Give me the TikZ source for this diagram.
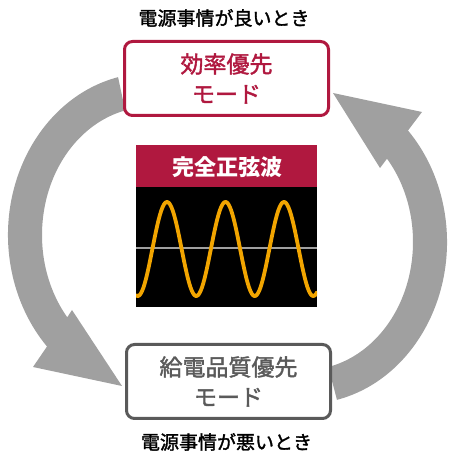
\documentclass[tikz,border=0pt]{standalone}
\usepackage{fontspec}
\newfontfamily\jp[FakeBold=1.6]{Noto Sans CJK JP}
\newfontfamily\jpb{Noto Sans CJK JP}
\definecolor{crim}{HTML}{B0183F}
\definecolor{arrowgray}{HTML}{A0A0A0}
\definecolor{boxgray}{HTML}{5A5A5A}
\definecolor{wave}{HTML}{F2A500}
\begin{document}
\begin{tikzpicture}[x=1pt,y=1pt,
  modebox/.style={draw, line width=3pt, rounded corners=8pt, fill=white,
    minimum width=204pt, minimum height=74pt, align=center,
    font=\jp\fontsize{23}{30}\selectfont, inner sep=0pt},
  caption/.style={font=\jp\fontsize{19}{22}\selectfont, text=black, inner sep=0pt},
  head/.style={fill=arrowgray, draw=none}]
\useasboundingbox (0,0) rectangle (455,457);

% centres of the two circular arrows
\coordinate (lc) at (150,222);
\coordinate (rc) at (305,215);
% arrow heads
\coordinate (ltip) at (122,71);
\coordinate (lb1) at (72,147);
\coordinate (lb2) at (33,90);
\coordinate (rtip) at (333,364);
\coordinate (rb1) at (380,289);
\coordinate (rb2) at (422,345);

% left arrow (top box -> bottom box)
\fill[head] ([shift={(lc)}]103:142 and 162)
  arc[start angle=103, end angle=223.5, x radius=142, y radius=162]
  -- (lb2) -- (ltip) -- (lb1)
  -- ([shift={(lc)}]220:108 and 128)
  arc[start angle=220, end angle=103.3, x radius=108, y radius=128] -- cycle;

% right arrow (bottom box -> top box)
\fill[head] ([shift={(rc)}]-77:142 and 162)
  arc[start angle=-77, end angle=43.5, x radius=142, y radius=162]
  -- (rb2) -- (rtip) -- (rb1)
  -- ([shift={(rc)}]40.6:108 and 128)
  arc[start angle=40.6, end angle=-77.5, x radius=108, y radius=128] -- cycle;

% boxes
\node[modebox, draw=crim, text=crim] (eff) at (226.5,378.5) {効率優先\\モード};
\node[modebox, draw=boxgray, text=boxgray] (qual) at (228.5,75.5) {給電品質優先\\モード};

% captions
\node[caption] (good) at (224,439) {電源事情が良いとき};
\node[caption] (bad) at (226.5,15) {電源事情が悪いとき};

% center panel
\fill[crim] (136,270) rectangle (317,312);
\fill[black] (136,150) rectangle (317,270);
\node[font=\jpb\bfseries\fontsize{22}{24}\selectfont, text=white, inner sep=0pt] (title) at (227,290) {完全正弦波};
\draw[arrowgray, line width=1.8pt] (136,209) -- (317,209);
\begin{scope}
\clip (136,150) rectangle (317,270);
\draw[wave, line width=3.8pt, line cap=round] plot[domain=136:317, samples=240, smooth] (\x, {208+47*cos(6.15385*(\x-167))});
\end{scope}
\end{tikzpicture}
\end{document}
